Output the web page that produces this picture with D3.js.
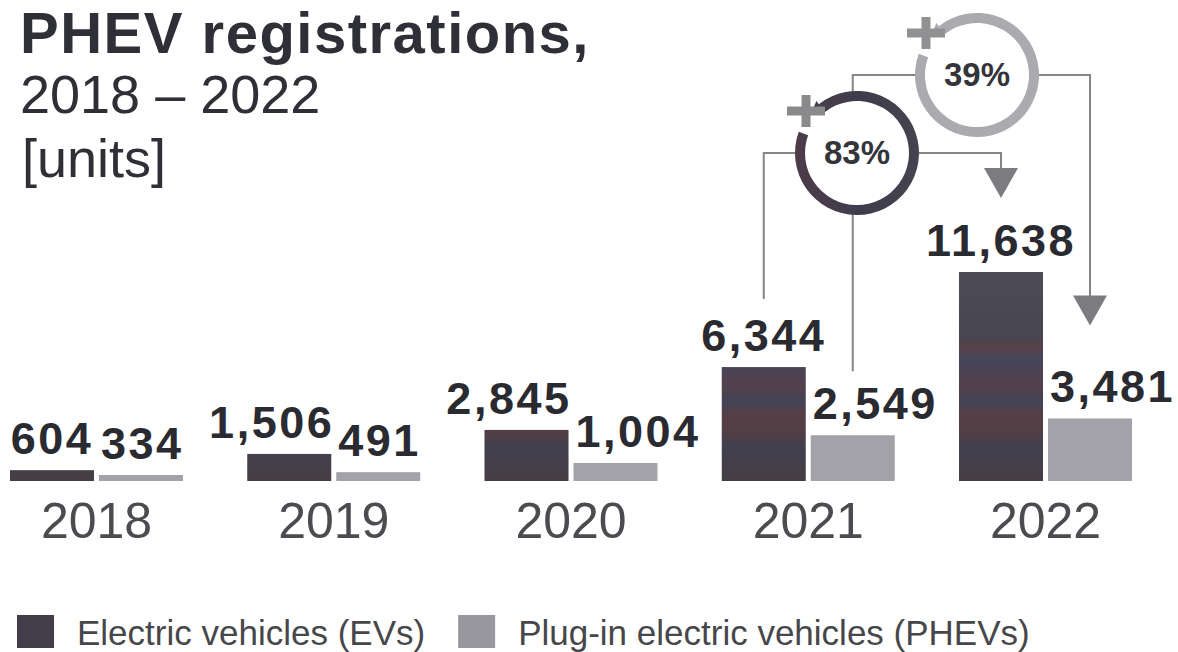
<!DOCTYPE html>
<html><head><meta charset="utf-8">
<script src="https://cdn.jsdelivr.net/npm/d3@7"></script>
<style>
html,body{margin:0;padding:0;background:#fff;}
svg{display:block;font-family:"Liberation Sans",Arial,Helvetica,sans-serif;}
</style></head><body>
<svg id="chart" width="1178" height="652"></svg>
<script>
// ---- data ----
const years = ["2018", "2019", "2020", "2021", "2022"];
const evUnits = [604, 1506, 2845, 6344, 11638];
const phevUnits = [334, 491, 1004, 2549, 3481];
const seriesKeys = ["ev", "phev"];
const seriesNames = ["Electric vehicles (EVs)", "Plug-in electric vehicles (PHEVs)"];
const titleLines = ["PHEV registrations,", "2018 – 2022", "[units]"];
// year-on-year growth callouts (2021 → 2022)
const growthLabels = ["83%", "39%"];
const growthSeries = ["ev", "phev"];
const growthFrom = ["2021", "2021"];
const growthTo = ["2022", "2022"];

// ---- layout ----
const W = 1178, H = 652;
const baseY = 481, topY = 272;

const svg = d3.select("#chart");

const x0 = d3.scaleBand().domain(years).range([10, 1132]).paddingInner(0.2708).paddingOuter(0);
const x1 = d3.scaleBand().domain(seriesKeys).range([0, x0.bandwidth()]).paddingInner(0.056);
const y = d3.scaleLinear().domain([0, d3.max(evUnits)]).range([baseY, topY]);
const fmt = d3.format(",");

// fills
const defs = svg.append("defs");
const g1 = defs.append("linearGradient").attr("id", "evFill")
  .attr("gradientUnits", "userSpaceOnUse").attr("x1", 0).attr("x2", 0).attr("y1", topY).attr("y2", baseY);
[[0, "#4c4b56"], [0.3, "#474652"], [0.36, "#56414a"], [0.42, "#45465a"], [0.55, "#54404a"],
 [0.62, "#404356"], [0.68, "#573f46"], [0.76, "#523e45"], [0.84, "#41404f"], [1, "#473e44"]]
  .forEach(([o, c]) => g1.append("stop").attr("offset", o).attr("stop-color", c));
const ringGrad = defs.append("linearGradient").attr("id", "ringDark")
  .attr("x1", 0).attr("x2", 1).attr("y1", 0).attr("y2", 0);
[[0, "#4e3b4a"], [0.5, "#3f3d4c"], [1, "#45434f"]]
  .forEach(([o, c]) => ringGrad.append("stop").attr("offset", o).attr("stop-color", c));
const fills = {ev: "url(#evFill)", phev: "#a3a2a8"};

// ---- title ----
const title = svg.append("g").attr("fill", "#2f2f37");
title.append("text").attr("x", 20).attr("y", 53).attr("font-size", 58).attr("font-weight", "bold")
  .attr("letter-spacing", 1.5).text(titleLines[0]);
title.append("text").attr("x", 20).attr("y", 113).attr("font-size", 54).text(titleLines[1]);
title.append("text").attr("x", 22).attr("y", 177).attr("font-size", 54).text(titleLines[2]);

// ---- bars ----
const rows = years.map((yr, i) => ({year: yr, ev: evUnits[i], phev: phevUnits[i]}));
const groups = svg.append("g").selectAll("g").data(rows).join("g")
  .attr("transform", d => `translate(${x0(d.year)},0)`);
groups.selectAll("rect").data(d => seriesKeys.map(k => ({key: k, value: d[k]}))).join("rect")
  .attr("x", d => x1(d.key)).attr("y", d => y(d.value))
  .attr("width", x1.bandwidth()).attr("height", d => baseY - y(d.value))
  .attr("fill", d => fills[d.key]);

// ---- value labels ----
const labelFont = 45, labelGap = 16, capH = 32;
const labelsG = svg.append("g").attr("font-size", labelFont).attr("font-weight", "bold")
  .attr("letter-spacing", 2.5).attr("fill", "#2a2a31");
const labelTop = {};
rows.forEach(d => {
  const gx = x0(d.year);
  const px = gx + x1("phev") + 2;
  const pBase = y(d.phev) - labelGap;
  labelsG.append("text").attr("x", px).attr("y", pBase).text(fmt(d.phev));
  const eBase = y(d.ev) - labelGap;
  const et = labelsG.append("text").attr("y", eBase).text(fmt(d.ev));
  const w = et.node().getComputedTextLength();
  const cx = gx + x1("ev") + x1.bandwidth() / 2;
  let left = cx - w / 2;
  // keep the EV figure clear of the PHEV figure when they sit at similar heights
  const overlapV = (eBase > pBase - capH - 10) && (eBase - capH < pBase + 10);
  if (overlapV && left + w > px - 4) left = px - 4 - w;
  et.attr("x", left);
  labelTop[d.year] = {ev: eBase - capH, phev: pBase - capH};
});

// ---- year labels ----
svg.append("g").attr("font-size", 50).attr("fill", "#4c4c50").attr("text-anchor", "middle")
  .selectAll("text").data(years).join("text")
  .attr("x", d => x0(d) + x0.bandwidth() / 2).attr("y", 538).text(d => d);

// ---- growth callouts ----
const calloutLayout = [
  {cx: 857, cy: 153, ring: "url(#ringDark)", plus: "#8a8a8c", tipGap: 26, lineGap: 20},
  {cx: 977, cy: 75, ring: "#abaaaf", plus: "#919194", tipGap: 45, lineGap: 16}
];
const barCenter = (yr, key) => x0(yr) + x1(key) + x1.bandwidth() / 2;
const linesG = svg.append("g");
const ringsG = svg.append("g");
const rad = Math.PI / 180;
const rIn = 52, rOut = 62;
const arc = d3.arc().innerRadius(rIn).outerRadius(rOut).startAngle(-38 * rad).endAngle(290 * rad);
const polar = (cx, cy, r, a) => [cx + r * Math.sin(a), cy - r * Math.cos(a)];

growthLabels.forEach((lab, i) => {
  const L = calloutLayout[i];
  const k = growthSeries[i];
  const xa = barCenter(growthFrom[i], k);
  const xb = barCenter(growthTo[i], k);
  const yStart = labelTop[growthFrom[i]][k] - L.lineGap;
  const tip = labelTop[growthTo[i]][k] - L.tipGap;
  const triH = 30, triW = 34;
  linesG.append("path")
    .attr("d", `M${xa},${yStart}V${L.cy}H${xb}V${tip - triH + 2}`)
    .attr("fill", "none").attr("stroke", "#858588").attr("stroke-width", 2);
  linesG.append("path")
    .attr("d", `M${xb - triW / 2},${tip - triH}L${xb + triW / 2},${tip - triH}L${xb},${tip}Z`)
    .attr("fill", "#7c7c80");

  const g = ringsG.append("g");
  g.append("circle").attr("cx", L.cx).attr("cy", L.cy).attr("r", rOut - 1).attr("fill", "#fff");
  g.append("path").attr("transform", `translate(${L.cx},${L.cy})`).attr("d", arc()).attr("fill", L.ring);
  // arrow barb at the leading end of the ring
  const a0 = -38 * rad;
  const p1 = polar(L.cx, L.cy, rOut + 4, a0), p2 = polar(L.cx, L.cy, rIn, a0), p3 = polar(L.cx, L.cy, rOut - 2, a0 - 13 * rad);
  g.append("path").attr("d", `M${p1}L${p3}L${p2}Z`).attr("fill", L.ring);
  // plus sign in the gap
  const px = L.cx - 51, py = L.cy - 42;
  g.append("rect").attr("x", px - 19).attr("y", py - 4.5).attr("width", 38).attr("height", 9).attr("fill", L.plus);
  g.append("rect").attr("x", px - 4.5).attr("y", py - 16).attr("width", 9).attr("height", 32).attr("fill", L.plus);
  g.append("text").attr("x", L.cx).attr("y", L.cy + 11).attr("text-anchor", "middle")
    .attr("font-size", 33).attr("font-weight", "bold").attr("fill", "#34343b").text(lab);
});

// ---- legend ----
const legend = svg.append("g").attr("font-size", 35).attr("fill", "#47474b");
let lx = 17;
const legendFills = {ev: "#423d49", phev: "#98979d"};
seriesKeys.forEach((k, i) => {
  legend.append("rect").attr("x", lx).attr("y", 615).attr("width", 37).attr("height", 33).attr("fill", legendFills[k]);
  const t = legend.append("text").attr("x", lx + 60).attr("y", 645).text(seriesNames[i]);
  lx = lx + 60 + t.node().getComputedTextLength() + 33;
});
</script>
</body></html>
